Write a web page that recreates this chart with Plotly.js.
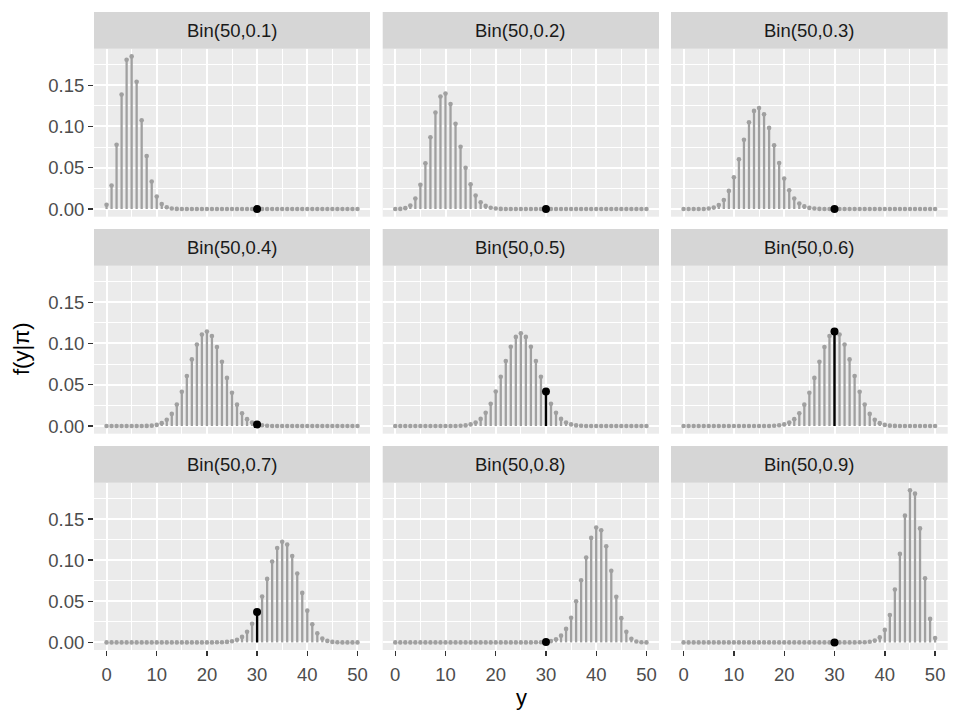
<!DOCTYPE html>
<html>
<head>
<meta charset="utf-8">
<script src="https://cdn.plot.ly/plotly-3.0.1.min.js"></script>
<style>html,body{margin:0;padding:0;background:#fff;}#chart{width:960px;height:720px;}</style>
</head>
<body>
<div id="chart"></div>
<script>
// y values 0..50
const yVals = [0,1,2,3,4,5,6,7,8,9,10,11,12,13,14,15,16,17,18,19,20,21,22,23,24,25,26,27,28,29,30,31,32,33,34,35,36,37,38,39,40,41,42,43,44,45,46,47,48,49,50];
const highlightY = 30;
const facetLabels = ["Bin(50,0.1)","Bin(50,0.2)","Bin(50,0.3)","Bin(50,0.4)","Bin(50,0.5)","Bin(50,0.6)","Bin(50,0.7)","Bin(50,0.8)","Bin(50,0.9)"];

const p01 = [0.0052,0.0286,0.0779,0.1386,0.1809,0.1849,0.1541,0.1076,0.0643,0.0333,
  0.0152,0.0061,0.0022,0.0007,0.0002,0.0001,0,0,0,0,
  0,0,0,0,0,0,0,0,0,0,
  0,0,0,0,0,0,0,0,0,0,
  0,0,0,0,0,0,0,0,0,0,
  0];
const p02 = [0,0.0002,0.0011,0.0044,0.0128,0.0295,0.0554,0.0870,0.1169,0.1364,
  0.1398,0.1271,0.1033,0.0755,0.0499,0.0299,0.0164,0.0082,0.0038,0.0016,
  0.0006,0.0002,0.0001,0,0,0,0,0,0,0,
  0,0,0,0,0,0,0,0,0,0,
  0,0,0,0,0,0,0,0,0,0,
  0];
const p03 = [0,0,0,0,0.0001,0.0006,0.0018,0.0048,0.0110,0.0220,
  0.0386,0.0602,0.0838,0.1050,0.1189,0.1223,0.1147,0.0983,0.0772,0.0557,
  0.0370,0.0227,0.0128,0.0067,0.0032,0.0014,0.0006,0.0002,0.0001,0,
  0,0,0,0,0,0,0,0,0,0,
  0,0,0,0,0,0,0,0,0,0,
  0];
const p04 = [0,0,0,0,0,0,0,0,0.0002,0.0005,
  0.0014,0.0035,0.0076,0.0147,0.0260,0.0415,0.0606,0.0807,0.0987,0.1108,
  0.1145,0.1090,0.0958,0.0778,0.0583,0.0404,0.0259,0.0154,0.0084,0.0043,
  0.0020,0.0009,0.0003,0.0001,0,0,0,0,0,0,
  0,0,0,0,0,0,0,0,0,0,
  0];
const p05 = [0,0,0,0,0,0,0,0,0,0,
  0,0,0.0001,0.0003,0.0008,0.0020,0.0044,0.0087,0.0160,0.0270,
  0.0419,0.0598,0.0788,0.0960,0.1080,0.1123,0.1080,0.0960,0.0788,0.0598,
  0.0419,0.0270,0.0160,0.0087,0.0044,0.0020,0.0008,0.0003,0.0001,0,
  0,0,0,0,0,0,0,0,0,0,
  0];
const p06 = [0,0,0,0,0,0,0,0,0,0,
  0,0,0,0,0,0,0,0.0001,0.0003,0.0009,
  0.0020,0.0043,0.0084,0.0154,0.0259,0.0404,0.0583,0.0778,0.0958,0.1090,
  0.1145,0.1108,0.0987,0.0807,0.0606,0.0415,0.0260,0.0147,0.0076,0.0035,
  0.0014,0.0005,0.0002,0,0,0,0,0,0,0,
  0];
const p07 = [0,0,0,0,0,0,0,0,0,0,
  0,0,0,0,0,0,0,0,0,0,
  0,0,0.0001,0.0002,0.0006,0.0014,0.0032,0.0067,0.0128,0.0227,
  0.0370,0.0557,0.0772,0.0983,0.1147,0.1223,0.1189,0.1050,0.0838,0.0602,
  0.0386,0.0220,0.0110,0.0048,0.0018,0.0006,0.0001,0,0,0,
  0];
const p08 = [0,0,0,0,0,0,0,0,0,0,
  0,0,0,0,0,0,0,0,0,0,
  0,0,0,0,0,0,0,0,0.0001,0.0002,
  0.0006,0.0016,0.0038,0.0082,0.0164,0.0299,0.0499,0.0755,0.1033,0.1271,
  0.1398,0.1364,0.1169,0.0870,0.0554,0.0295,0.0128,0.0044,0.0011,0.0002,
  0];
const p09 = [0,0,0,0,0,0,0,0,0,0,
  0,0,0,0,0,0,0,0,0,0,
  0,0,0,0,0,0,0,0,0,0,
  0,0,0,0,0,0.0001,0.0002,0.0007,0.0022,0.0061,
  0.0152,0.0333,0.0643,0.1076,0.1541,0.1849,0.1809,0.1386,0.0779,0.0286,
  0.0052];

const pmfs = [p01,p02,p03,p04,p05,p06,p07,p08,p09];

const W = 960, H = 720;
const colPx = [[94,370],[382.7,659],[671,947.7]];
const rowPx = [[48.7,216.7],[265.7,433.7],[482.7,650]];
const stripH = 36.7;
const gray = '#A0A0A0';

const traces = [];
const layout = {
  width: W, height: H,
  margin: {l:0,r:0,t:0,b:0},
  paper_bgcolor: '#FFFFFF',
  plot_bgcolor: '#EBEBEB',
  showlegend: false,
  font: {family: 'Liberation Sans, Arial, sans-serif', color: '#4D4D4D'},
  shapes: [],
  annotations: []
};

pmfs.forEach((f, i) => {
  const row = Math.floor(i/3), col = i % 3;
  const n = i === 0 ? '' : String(i+1);
  const xa = 'x' + n, ya = 'y' + n;
  const sx = [], sy = [];
  yVals.forEach((yy, k) => { sx.push(yy, yy, null); sy.push(0, f[k], null); });
  traces.push({x: sx, y: sy, xaxis: xa, yaxis: ya, type: 'scatter', mode: 'lines',
    line: {color: gray, width: 2.3}, hoverinfo: 'skip'});
  traces.push({x: yVals, y: f, xaxis: xa, yaxis: ya, type: 'scatter', mode: 'markers',
    marker: {color: gray, size: 4.6}, hoverinfo: 'skip'});
  const hk = yVals.indexOf(highlightY);
  traces.push({x: [highlightY, highlightY], y: [0, f[hk]], xaxis: xa, yaxis: ya, type: 'scatter', mode: 'lines',
    line: {color: '#000000', width: 2.3}, hoverinfo: 'skip'});
  traces.push({x: [highlightY], y: [f[hk]], xaxis: xa, yaxis: ya, type: 'scatter', mode: 'markers',
    marker: {color: '#000000', size: 8}, hoverinfo: 'skip'});

  const xd = [colPx[col][0]/W, colPx[col][1]/W];
  const yd = [1 - rowPx[row][1]/H, 1 - rowPx[row][0]/H];
  layout['xaxis' + n] = {
    domain: xd, anchor: ya, range: [-2.5, 52.5],
    tickmode: 'linear', tick0: 0, dtick: 10,
    showgrid: true, gridcolor: '#FFFFFF', gridwidth: 2,
    minor: {tick0: 0, dtick: 5, showgrid: true, gridcolor: '#FFFFFF', gridwidth: 1},
    zeroline: false, showline: false,
    showticklabels: row === 2, ticks: row === 2 ? 'outside' : '',
    ticklen: 5, tickwidth: 1.4, tickcolor: '#333333', ticklabelstandoff: 3,
    tickfont: {size: 18.5, color: '#4D4D4D'}, fixedrange: true
  };
  layout['yaxis' + n] = {
    domain: yd, anchor: xa, range: [-0.00925, 0.1942],
    tickmode: 'linear', tick0: 0, dtick: 0.05, tickformat: '.2f',
    showgrid: true, gridcolor: '#FFFFFF', gridwidth: 2,
    minor: {tick0: 0, dtick: 0.025, showgrid: true, gridcolor: '#FFFFFF', gridwidth: 1},
    zeroline: false, showline: false,
    showticklabels: col === 0, ticks: col === 0 ? 'outside' : '',
    ticklen: 5, tickwidth: 1.4, tickcolor: '#333333',
    tickfont: {size: 18.5, color: '#4D4D4D'}, fixedrange: true
  };
  // strip
  const st = rowPx[row][0] - stripH, sb = rowPx[row][0];
  layout.shapes.push({type: 'rect', xref: 'paper', yref: 'paper',
    x0: xd[0], x1: xd[1], y0: 1 - sb/H, y1: 1 - st/H,
    fillcolor: '#D6D6D6', line: {width: 0}, layer: 'below'});
  layout.annotations.push({xref: 'paper', yref: 'paper', x: (xd[0]+xd[1])/2, y: 1 - (st+sb)/2/H,
    text: facetLabels[i], showarrow: false, xanchor: 'center', yanchor: 'middle',
    font: {size: 18.5, color: '#1A1A1A'}});
});

layout.annotations.push({xref: 'paper', yref: 'paper', x: 521/W, y: 1 - 697/H,
  text: 'y', showarrow: false, xanchor: 'center', yanchor: 'middle',
  font: {size: 22, color: '#000000'}});
layout.annotations.push({xref: 'paper', yref: 'paper', x: 21/W, y: 1 - 349/H,
  text: 'f(y|π)', showarrow: false, textangle: -90, xanchor: 'center', yanchor: 'middle',
  font: {size: 22, color: '#000000'}});

Plotly.newPlot('chart', traces, layout, {displayModeBar: false, staticPlot: true});
</script>
</body>
</html>
